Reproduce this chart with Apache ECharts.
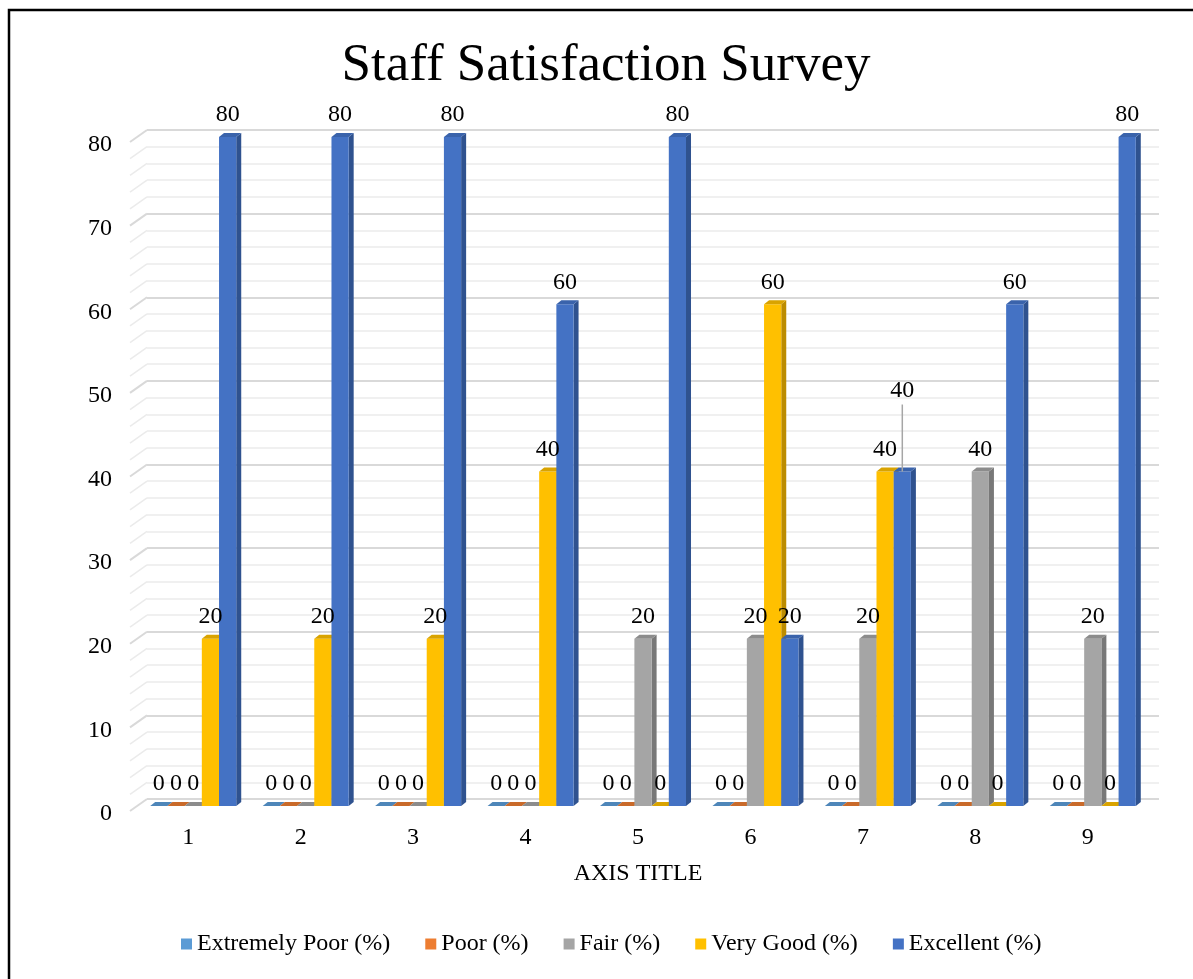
<!DOCTYPE html>
<html>
<head>
<meta charset="utf-8">
<script src="https://cdn.jsdelivr.net/npm/echarts@6/dist/echarts.min.js"></script>
<style>
html,body{margin:0;padding:0;background:#fff;}
#chart{width:1193px;height:979px;}
</style>
</head>
<body>
<div id="chart"></div>
<script>
// ---- data ----
const categories = ['1', '2', '3', '4', '5', '6', '7', '8', '9'];
const seriesNames = ['Extremely Poor (%)', 'Poor (%)', 'Fair (%)', 'Very Good (%)', 'Excellent (%)'];
const extremelyPoor = [0, 0, 0, 0, 0, 0, 0, 0, 0];
const poor = [0, 0, 0, 0, 0, 0, 0, 0, 0];
const fair = [0, 0, 0, 0, 20, 20, 20, 40, 20];
const veryGood = [20, 20, 20, 40, 0, 60, 40, 0, 0];
const excellent = [80, 80, 80, 60, 80, 20, 40, 60, 80];
const yMin = 0, yMax = 80, yInterval = 10;

// ---- styles ----
const FONT = "'Times New Roman', 'Liberation Serif', serif";
const palette = [
  {front: '#5B9BD5', side: '#41719C', top: '#4E86B9'},
  {front: '#ED7D31', side: '#AE5A21', top: '#C96A2A'},
  {front: '#A5A5A5', side: '#787878', top: '#8C8C8C'},
  {front: '#FFC000', side: '#BC8C00', top: '#D9A300'},
  {front: '#4472C4', side: '#2F528F', top: '#3A63AB'}
];
// label moved up with leader line: [seriesIndex, dataIndex, lift]
const liftedLabels = [[4, 6, 59]];

const GRID_LEFT = 147, GRID_RIGHT = 34, GRID_TOP = 130, GRID_BOTTOM = 180;

function makeRender(sIdx) {
  const c = palette[sIdx];
  return function (params, api) {
    const ci = api.value(0), v = api.value(1);
    const band = api.size([1, 0])[0];
    const base = api.coord([ci, 0]);
    const topPt = api.coord([ci, v]);
    const groupW = band * 0.765, bw = groupW / 5;
    const sx = -10, sy = 7, d = 5, dh = 4;
    const x = base[0] - groupW / 2 + sIdx * bw + sx;
    const yb = base[1] + sy, yt = topPt[1] + sy;
    const children = [];
    if (yb - yt > 0.5) {
      children.push({type: 'polygon', z2: 1, shape: {points: [[x + bw, yt], [x + bw + d, yt - dh], [x + bw + d, yb - dh], [x + bw, yb]]}, style: {fill: c.side}});
      children.push({type: 'rect', z2: 1, shape: {x: x, y: yt, width: bw, height: yb - yt}, style: {fill: c.front}});
    }
    children.push({type: 'polygon', z2: 1, shape: {points: [[x, yt], [x + d, yt - dh], [x + bw + d, yt - dh], [x + bw, yt]]}, style: {fill: c.top}});
    let lift = 0;
    liftedLabels.forEach(function (l) { if (l[0] === sIdx && l[1] === params.dataIndex) lift = l[2]; });
    const ly = yt - 22 - lift;
    if (lift > 0) {
      children.push({type: 'line', z2: 50, shape: {x1: x + bw / 2, y1: ly + 14, x2: x + bw / 2, y2: yt}, style: {stroke: '#A6A6A6', lineWidth: 1.5}});
    }
    children.push({type: 'text', z2: 100, style: {text: String(v), x: x + bw / 2, y: ly, textAlign: 'center', textVerticalAlign: 'middle', font: '24px ' + FONT, fill: '#000'}});
    return {type: 'group', children: children};
  };
}

const seriesData = [extremelyPoor, poor, fair, veryGood, excellent];
const series = seriesData.map(function (arr, sIdx) {
  return {
    name: seriesNames[sIdx],
    type: 'custom',
    renderItem: makeRender(sIdx),
    itemStyle: {color: palette[sIdx].front},
    encode: {x: 0, y: 1},
    clip: false,
    data: arr.map(function (v, i) { return [i, v]; })
  };
});

const chart = echarts.init(document.getElementById('chart'), null, {renderer: 'canvas'});
chart.setOption({
  animation: false,
  backgroundColor: '#fff',
  color: palette.map(function (p) { return p.front; }),
  title: {
    text: 'Staff Satisfaction Survey',
    left: 601, top: 35, textAlign: 'center',
    textStyle: {fontFamily: FONT, fontSize: 53, fontWeight: 'normal', color: '#000'}
  },
  legend: {
    data: seriesNames,
    left: 176, top: 927,
    icon: 'rect', itemWidth: 11, itemHeight: 11, itemGap: 35,
    textStyle: {fontFamily: FONT, fontSize: 24, color: '#000'}
  },
  grid: {left: GRID_LEFT, right: GRID_RIGHT, top: GRID_TOP, bottom: GRID_BOTTOM},
  xAxis: {
    type: 'category',
    data: categories,
    axisLine: {show: false},
    axisTick: {show: false},
    axisLabel: {fontFamily: FONT, fontSize: 24, color: '#000', margin: 27, padding: [0, 30, 0, 0]},
    name: 'AXIS TITLE',
    nameLocation: 'middle',
    nameGap: 63,
    nameTextStyle: {fontFamily: FONT, fontSize: 24, color: '#000', padding: [0, 30, 0, 0]}
  },
  yAxis: {
    type: 'value',
    min: yMin, max: yMax, interval: yInterval,
    axisLine: {show: false},
    axisTick: {show: false},
    axisLabel: {fontFamily: FONT, fontSize: 24, color: '#000', margin: 35, verticalAlign: 'top', lineHeight: 30},
    splitLine: {show: true, lineStyle: {color: '#D9D9D9', width: 2}},
    minorTick: {show: false, splitNumber: 5},
    minorSplitLine: {show: true, lineStyle: {color: '#EBEBEB', width: 1.5}}
  },
  series: series
});

// 3D wall: slanted left ends of gridlines + border frame
const gfx = [];
for (let v = yMin; v <= yMax; v += 2) {
  const y = chart.convertToPixel({yAxisIndex: 0}, v);
  const major = v % yInterval === 0;
  gfx.push({type: 'line', silent: true, shape: {x1: GRID_LEFT - 17, y1: y + 12, x2: GRID_LEFT, y2: y},
    style: {stroke: major ? '#D9D9D9' : '#EBEBEB', lineWidth: major ? 2 : 1.5}});
}
gfx.push({type: 'polyline', silent: true, shape: {points: [[9, 979], [9, 10], [1193, 10]]}, style: {stroke: '#000', lineWidth: 2.5, fill: null}});
chart.setOption({graphic: gfx});
</script>
</body>
</html>
